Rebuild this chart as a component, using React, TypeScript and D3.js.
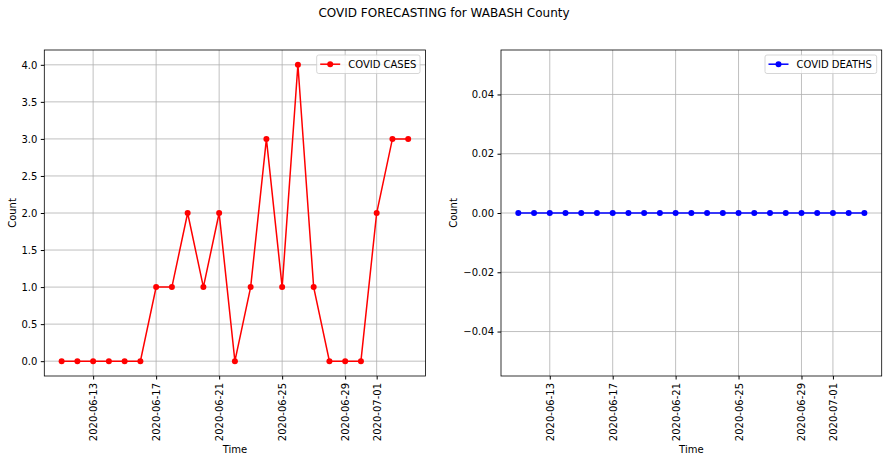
import { useEffect, useRef } from "react";
import * as d3 from "d3";

// data
const dates = [
  "2020-06-11", "2020-06-12", "2020-06-13", "2020-06-14", "2020-06-15", "2020-06-16",
  "2020-06-17", "2020-06-18", "2020-06-19", "2020-06-20", "2020-06-21", "2020-06-22",
  "2020-06-23", "2020-06-24", "2020-06-25", "2020-06-26", "2020-06-27", "2020-06-28",
  "2020-06-29", "2020-06-30", "2020-07-01", "2020-07-02", "2020-07-03",
];
const cases = [0, 0, 0, 0, 0, 0, 1, 1, 2, 1, 2, 0, 1, 3, 1, 4, 1, 0, 0, 0, 2, 3, 3];
const deaths = [0, 0, 0, 0, 0, 0, 0, 0, 0, 0, 0, 0, 0, 0, 0, 0, 0, 0, 0, 0, 0, 0, 0];
const dateTicks = ["2020-06-13", "2020-06-17", "2020-06-21", "2020-06-25", "2020-06-29", "2020-07-01"];
const casesTicks = [0, 0.5, 1, 1.5, 2, 2.5, 3, 3.5, 4];
const deathsTicks = [-0.04, -0.02, 0, 0.02, 0.04];

const W = 888;
const H = 462;
const FONT = "DejaVu Sans, sans-serif";

function App() {
  const ref = useRef<SVGSVGElement>(null);

  useEffect(() => {
    const svg = d3.select(ref.current);
    svg.selectAll("*").remove();

    const parse = d3.utcParse("%Y-%m-%d");
    const xs = dates.map((d) => parse(d) as Date);
    const ticks = dateTicks.map((d) => parse(d) as Date);

    svg.append("rect").attr("width", W).attr("height", H).attr("fill", "white");

    svg.append("text")
      .attr("x", W / 2).attr("y", 17)
      .attr("text-anchor", "middle")
      .attr("font-family", FONT).attr("font-size", 12)
      .text("COVID FORECASTING for WABASH County");

    const drawPanel = (
      left: number, right: number, values: number[], yDomain: [number, number],
      yTicks: number[], fmt: (n: number) => string, color: string, label: string,
      legendX: number, legendW: number, countX: number
    ) => {
      const top = 50, bottom = 376;
      const t0 = xs[0].getTime(), t1 = xs[xs.length - 1].getTime();
      const pad = (t1 - t0) * 0.05;
      const x = d3.scaleUtc().domain([new Date(t0 - pad), new Date(t1 + pad)]).range([left, right]);
      const y = d3.scaleLinear().domain(yDomain).range([bottom, top]);

      const g = svg.append("g");

      // grid
      g.selectAll(".gx").data(ticks).enter().append("line")
        .attr("x1", (d) => x(d)).attr("x2", (d) => x(d))
        .attr("y1", top).attr("y2", bottom)
        .attr("stroke", "#b0b0b0").attr("stroke-width", 0.8);
      g.selectAll(".gy").data(yTicks).enter().append("line")
        .attr("x1", left).attr("x2", right)
        .attr("y1", (d) => y(d)).attr("y2", (d) => y(d))
        .attr("stroke", "#b0b0b0").attr("stroke-width", 0.8);

      // x axis
      const xAxis = d3.axisBottom(x).tickValues(ticks).tickSize(3.5).tickPadding(3.5)
        .tickFormat((d) => d3.utcFormat("%Y-%m-%d")(d as Date));
      const xg = g.append("g").attr("transform", `translate(0,${bottom})`).call(xAxis);
      xg.select(".domain").remove();
      xg.selectAll("text")
        .attr("font-family", FONT).attr("font-size", 10).attr("fill", "black")
        .attr("transform", "rotate(-90)")
        .attr("text-anchor", "end")
        .attr("x", -7).attr("y", 0).attr("dy", "0.35em");

      // y axis
      const yAxis = d3.axisLeft(y).tickValues(yTicks).tickSize(3.5).tickPadding(3.5)
        .tickFormat((d) => fmt(d as number));
      const yg = g.append("g").attr("transform", `translate(${left},0)`).call(yAxis);
      yg.select(".domain").remove();
      yg.selectAll("text").attr("font-family", FONT).attr("font-size", 10).attr("fill", "black");

      // frame
      g.append("rect")
        .attr("x", left).attr("y", top).attr("width", right - left).attr("height", bottom - top)
        .attr("fill", "none").attr("stroke", "black").attr("stroke-width", 0.8);

      // series
      const pts = values.map((v, i) => ({ d: xs[i], v }));
      g.append("path").datum(pts)
        .attr("fill", "none").attr("stroke", color).attr("stroke-width", 1.5)
        .attr("d", d3.line<{ d: Date; v: number }>().x((p) => x(p.d)).y((p) => y(p.v)));
      g.selectAll(".pt").data(pts).enter().append("circle")
        .attr("cx", (p) => x(p.d)).attr("cy", (p) => y(p.v)).attr("r", 3)
        .attr("fill", color);

      // labels
      g.append("text")
        .attr("x", (left + right) / 2).attr("y", 453)
        .attr("text-anchor", "middle")
        .attr("font-family", FONT).attr("font-size", 10)
        .text("Time");
      g.append("text")
        .attr("transform", `translate(${countX},${(top + bottom) / 2}) rotate(-90)`)
        .attr("text-anchor", "middle").attr("dy", "0.35em")
        .attr("font-family", FONT).attr("font-size", 10)
        .text("Count");

      // legend
      const lg = g.append("g").attr("transform", `translate(${legendX},55)`);
      lg.append("rect")
        .attr("width", legendW).attr("height", 18.5).attr("rx", 2)
        .attr("fill", "white").attr("fill-opacity", 0.8)
        .attr("stroke", "#cccccc").attr("stroke-width", 0.8);
      lg.append("line")
        .attr("x1", 3.5).attr("x2", 23.5).attr("y1", 9.2).attr("y2", 9.2)
        .attr("stroke", color).attr("stroke-width", 1.5);
      lg.append("circle").attr("cx", 13.5).attr("cy", 9.2).attr("r", 3).attr("fill", color);
      lg.append("text")
        .attr("x", 31.5).attr("y", 12.8)
        .attr("font-family", FONT).attr("font-size", 10)
        .text(label);
    };

    drawPanel(44.3, 425.5, cases, [-0.2, 4.2], casesTicks, d3.format(".1f"),
      "red", "COVID CASES", 316.7, 103.3, 12);
    drawPanel(501, 881.7, deaths, [-0.055, 0.055], deathsTicks, d3.format(".2f"),
      "blue", "COVID DEATHS", 765, 111.7, 453);
  }, []);

  return (
    <svg ref={ref} width={W} height={H}
      style={{ position: "absolute", left: 0, top: 0, display: "block" }}></svg>
  );
}

export default App;
